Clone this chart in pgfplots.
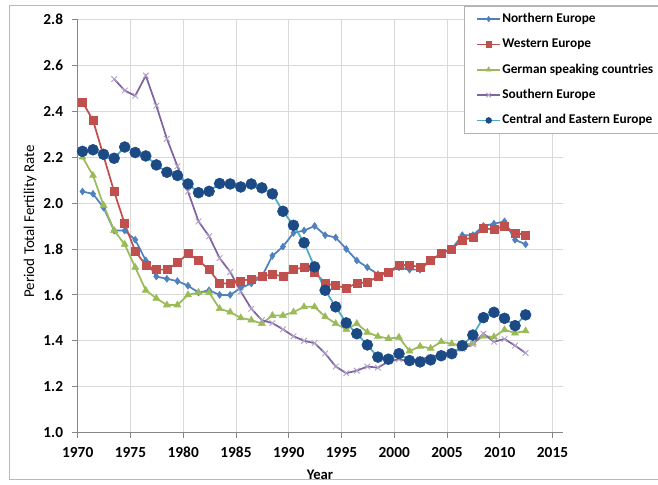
\documentclass[border=0pt]{standalone}
\usepackage{fontspec}
\setmainfont{Carlito}
\usepackage{pgfplots}
\pgfplotsset{compat=1.18}
\usepackage{pgfplotstable}

\definecolor{cN}{HTML}{4F81BD}
\definecolor{cW}{HTML}{C0504D}
\definecolor{cG}{HTML}{9BBB59}
\definecolor{cS}{HTML}{8064A2}
\definecolor{cSm}{HTML}{B3A2C7}
\definecolor{cC}{HTML}{1B4A85}
\definecolor{cCl}{HTML}{4BACC6}
\definecolor{gridgray}{HTML}{D9D9D9}
\definecolor{axisgray}{HTML}{868686}

\pgfplotstableread{
year v
1970 2.05
1971 2.04
1972 1.98
1973 1.88
1974 1.88
1975 1.84
1976 1.75
1977 1.68
1978 1.67
1979 1.66
1980 1.64
1981 1.61
1982 1.62
1983 1.60
1984 1.60
1985 1.63
1986 1.65
1987 1.68
1988 1.77
1989 1.81
1990 1.87
1991 1.88
1992 1.90
1993 1.86
1994 1.85
1995 1.80
1996 1.75
1997 1.72
1998 1.69
1999 1.70
2000 1.72
2001 1.71
2002 1.71
2003 1.75
2004 1.78
2005 1.80
2006 1.86
2007 1.86
2008 1.90
2009 1.91
2010 1.92
2011 1.84
2012 1.82
}\north

\pgfplotstableread{
year v
1970 2.44
1971 2.36
1973 2.05
1974 1.91
1975 1.79
1976 1.73
1977 1.71
1978 1.71
1979 1.74
1980 1.78
1981 1.75
1982 1.71
1983 1.65
1984 1.65
1985 1.66
1986 1.67
1987 1.68
1988 1.69
1989 1.68
1990 1.71
1991 1.72
1992 1.70
1993 1.65
1994 1.64
1995 1.63
1996 1.65
1997 1.655
1998 1.68
1999 1.70
2000 1.73
2001 1.73
2002 1.72
2003 1.75
2004 1.78
2005 1.80
2006 1.84
2007 1.85
2008 1.89
2009 1.885
2010 1.90
2011 1.87
2012 1.86
}\west

\pgfplotstableread{
year v
1970 2.20
1971 2.12
1972 1.99
1973 1.88
1974 1.82
1975 1.72
1976 1.62
1977 1.585
1978 1.556
1979 1.556
1980 1.60
1981 1.61
1982 1.61
1983 1.54
1984 1.525
1985 1.50
1986 1.49
1987 1.475
1988 1.51
1989 1.51
1990 1.525
1991 1.548
1992 1.548
1993 1.505
1994 1.475
1995 1.45
1996 1.475
1997 1.437
1998 1.419
1999 1.41
2000 1.415
2001 1.355
2002 1.376
2003 1.367
2004 1.396
2005 1.387
2006 1.38
2007 1.39
2008 1.42
2009 1.417
2010 1.448
2011 1.434
2012 1.443
}\german

\pgfplotstableread{
year v
1973 2.54
1974 2.49
1975 2.467
1976 2.555
1977 2.424
1978 2.28
1979 2.16
1980 2.05
1981 1.92
1982 1.855
1983 1.76
1984 1.70
1985 1.615
1986 1.54
1987 1.49
1988 1.477
1989 1.45
1990 1.42
1991 1.40
1992 1.39
1993 1.345
1994 1.288
1995 1.259
1996 1.27
1997 1.288
1998 1.283
1999 1.31
2000 1.32
2001 1.31
2002 1.32
2003 1.33
2004 1.34
2005 1.35
2006 1.365
2007 1.385
2008 1.431
2009 1.396
2010 1.408
2011 1.379
2012 1.347
}\south

\pgfplotstableread{
year v
1970 2.225
1971 2.232
1972 2.212
1973 2.195
1974 2.244
1975 2.220
1976 2.205
1977 2.166
1978 2.134
1979 2.120
1980 2.083
1981 2.045
1982 2.051
1983 2.085
1984 2.083
1985 2.070
1986 2.083
1987 2.066
1988 2.040
1989 1.964
1990 1.903
1991 1.827
1992 1.722
1993 1.620
1994 1.548
1995 1.478
1996 1.431
1997 1.382
1998 1.329
1999 1.320
2000 1.344
2001 1.314
2002 1.308
2003 1.317
2004 1.335
2005 1.344
2006 1.379
2007 1.425
2008 1.501
2009 1.524
2010 1.498
2011 1.466
2012 1.513
}\cee

\begin{document}
\begin{tikzpicture}
\path[use as bounding box] (-58.3pt,-39.2pt) rectangle (435.2pt,324.5pt);
\draw[gray!55, line width=0.6pt] (-51.5pt,-34.7pt) rectangle (440pt,320.8pt);
\begin{axis}[
  at={(0pt,0pt)}, anchor=south west,
  scale only axis, width=364pt, height=310pt,
  xmin=1970, xmax=2016, ymin=1.0, ymax=2.8,
  xtick={1970,1975,1980,1985,1990,1995,2000,2005,2010,2015},
  ytick={1.0,1.2,1.4,1.6,1.8,2.0,2.2,2.4,2.6,2.8},
  axis x line*=bottom, axis y line*=left,
  axis line style={draw=axisgray, line width=0.6pt},
  tick align=outside, major tick length=4pt,
  tick style={draw=axisgray, line width=0.6pt},
  grid=major, major grid style={draw=gridgray, line width=0.6pt},
  /pgf/number format/assume math mode=true,
  tick label style={font=\bfseries\fontsize{11.5}{13}\selectfont},
  x tick label style={/pgf/number format/1000 sep={}, yshift=-3.5pt},
  y tick label style={/pgf/number format/.cd, fixed, fixed zerofill, precision=1, /tikz/xshift=-3.5pt},
  xlabel={Year}, ylabel={Period Total Fertility Rate},
  x label style={at={(axis description cs:0.4993,-0.1023)}, anchor=center, font=\bfseries\fontsize{11}{13}\selectfont},
  y label style={at={(axis description cs:-0.0983,0.511)}, anchor=center, font=\fontsize{11.2}{13}\selectfont},
  legend style={at={(rel axis cs:0.796,1.0322)}, anchor=north west,
    draw=gray!60, fill=white, line width=0.6pt,
    font=\bfseries\fontsize{10}{12}\selectfont,
    inner xsep=9pt, inner ysep=4pt, row sep=8pt,
    nodes={inner sep=1pt, text height=7pt, text depth=2pt}},
  legend cell align=left,
  every axis plot/.append style={line width=1.3pt},
  clip=false,
]
\addplot[color=cN, mark=diamond*, mark size=2.6pt, mark options={fill=cN, draw=cN, line width=0.4pt},
  legend image code/.code={\draw[mark repeat=2,mark phase=2,mark size=2pt] plot coordinates {(0cm,0cm) (0.3cm,0cm) (0.6cm,0cm)};}]
  table[x expr=\thisrow{year}+0.45, y=v] {\north};
\addlegendentry{Northern Europe}
\addplot[color=cW, mark=square*, mark size=3pt, mark options={fill=cW, draw=cW, line width=0.4pt},
  legend image code/.code={\draw[mark repeat=2,mark phase=2,mark size=2pt] plot coordinates {(0cm,0cm) (0.3cm,0cm) (0.6cm,0cm)};}]
  table[x expr=\thisrow{year}+0.45, y=v] {\west};
\addlegendentry{Western Europe}
\addplot[color=cG, mark=triangle*, mark size=3pt, mark options={fill=cG, draw=cG, line width=0.4pt},
  legend image code/.code={\draw[mark repeat=2,mark phase=2,mark size=2.2pt] plot coordinates {(0cm,0cm) (0.3cm,0cm) (0.6cm,0cm)};}]
  table[x expr=\thisrow{year}+0.45, y=v] {\german};
\addlegendentry{German speaking countries}
\addplot[color=cS, mark=x, mark size=3pt, mark options={draw=cSm, line width=0.7pt},
  legend image code/.code={\draw[mark repeat=2,mark phase=2,mark size=2.4pt] plot coordinates {(0cm,0cm) (0.3cm,0cm) (0.6cm,0cm)};}]
  table[x expr=\thisrow{year}+0.45, y=v] {\south};
\addlegendentry{Southern Europe}
\addplot[color=cCl, mark=*, mark size=4.1pt, mark options={fill=cC, draw=cC, line width=0.4pt},
  legend image code/.code={\draw[mark repeat=2,mark phase=2,mark size=2.2pt] plot coordinates {(0cm,0cm) (0.3cm,0cm) (0.6cm,0cm)};}]
  table[x expr=\thisrow{year}+0.45, y=v] {\cee};
\addlegendentry{Central and Eastern Europe}
\end{axis}
\end{tikzpicture}
\end{document}
